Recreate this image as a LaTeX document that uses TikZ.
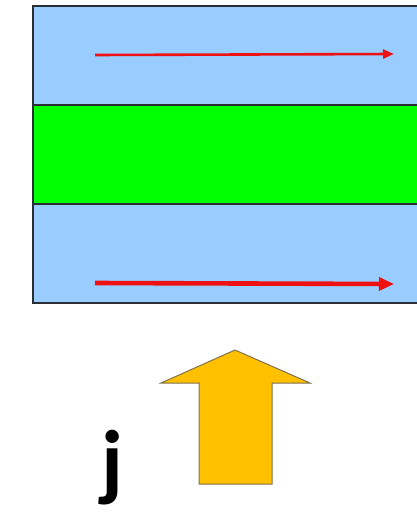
\documentclass[tikz,border=0pt]{standalone}
\usepackage{fontspec}
\setmainfont{Carlito}
\usetikzlibrary{arrows.meta,positioning,calc}
\definecolor{bandBlue}{HTML}{99CCFF}
\definecolor{bandGreen}{HTML}{00FF00}
\definecolor{flowRed}{HTML}{EE1111}
\definecolor{jOrange}{HTML}{FFC000}
\definecolor{jOrangeLine}{HTML}{7F7050}
\definecolor{edgeGrey}{HTML}{2A2F36}

\begin{document}
\begin{tikzpicture}[
    x=1pt,y=-1pt,
    band/.style={draw=none,minimum width=384pt,inner sep=0pt,outer sep=0pt,anchor=north west},
    edge/.style={edgeGrey,line width=1.6pt},
    flow/.style={-{Triangle[length=11pt,width=9pt]},flowRed,line width=2.6pt},
    flowthick/.style={-{Triangle[length=15pt,width=13pt]},flowRed,line width=4.6pt},
]
\useasboundingbox (0,0) rectangle (417,514);

% === LAYERS ===
\node[band,fill=bandBlue,minimum height=99pt] (top) at (33,6) {};
\node[band,fill=bandGreen,minimum height=99pt] (mid) at (33,105) {};
\node[band,fill=bandBlue,minimum height=99pt] (bot) at (33,204) {};

% outline (open at right)
\draw[edge] (top.north east) -- (top.north west) -- (bot.south west) -- (bot.south east);
\draw[edge] (mid.north west) -- (mid.north east);
\draw[edge] (mid.south west) -- (mid.south east);

% === CURRENT ARROWS ===
\coordinate (t1) at (95,55);
\coordinate (t2) at (394,54);
\coordinate (b1) at (95,283);
\coordinate (b2) at (394,284);
\draw[flow] (t1) -- (t2);
\draw[flowthick] (b1) -- (b2);

% === CURRENT DENSITY ===
\draw[jOrangeLine,fill=jOrange,line width=1pt]
    (199,484) -- (199,383) -- (161,383) -- (235,350) -- (310,383) -- (272,383) -- (272,484) -- cycle;
\node[font=\fontsize{86}{86}\selectfont\bfseries,anchor=base,inner sep=0pt] (jlabel) at (112,490) {j};

\end{tikzpicture}
\end{document}
